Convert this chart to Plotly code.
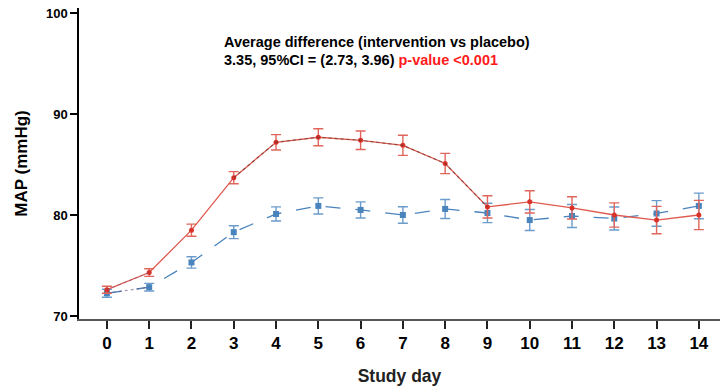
import plotly.graph_objects as go

# Study days and mean arterial pressure (mmHg) per arm, with error-bar half widths
days = list(range(15))
intervention_map = [72.6, 74.3, 78.5, 83.7, 87.2, 87.7, 87.4, 86.9, 85.1, 80.8, 81.3, 80.7, 80.0, 79.5, 80.0]
intervention_err = [0.35, 0.38, 0.6, 0.6, 0.76, 0.84, 0.92, 1.0, 1.0, 1.1, 1.1, 1.1, 1.2, 1.35, 1.45]
placebo_map = [72.25, 72.85, 75.3, 78.3, 80.1, 80.9, 80.5, 80.0, 80.6, 80.2, 79.5, 79.9, 79.65, 80.15, 80.9]
placebo_err = [0.4, 0.38, 0.56, 0.64, 0.7, 0.8, 0.8, 0.82, 0.94, 0.96, 1.04, 1.14, 1.14, 1.27, 1.27]

y_ticks = [70, 80, 90, 100]
title_line = "Average difference (intervention vs placebo)"
estimate_text = "3.35, 95%CI = (2.73, 3.96)"
p_text = "p-value <0.001"

RED = "#d8322a"
RED_LINE = "#e0594d"
BLUE = "#4a84bd"
FONT = "Liberation Sans, Arial, sans-serif"

fig = go.Figure()

fig.add_trace(go.Scatter(
    x=days, y=placebo_map, mode="lines+markers", name="Placebo",
    line=dict(color=BLUE, width=1.3, dash="longdash"),
    marker=dict(symbol="square", size=6, color=BLUE),
    error_y=dict(type="data", array=placebo_err, color="#6b9ccc", thickness=1.4, width=5),
))
# dotted overlay on the first placebo segment
fig.add_trace(go.Scatter(
    x=days[0:2], y=placebo_map[0:2], mode="lines",
    line=dict(color="rgba(110,80,120,0.6)", width=1.2, dash="dot"),
    hoverinfo="skip",
))

fig.add_trace(go.Scatter(
    x=days, y=intervention_map, mode="lines+markers", name="Intervention",
    line=dict(color=RED_LINE, width=1.3),
    marker=dict(symbol="circle", size=5, color=RED),
    error_y=dict(type="data", array=intervention_err, color="#e0665c", thickness=1.4, width=5),
))
# dotted overlay on the intervention peak segment (days 3-9)
fig.add_trace(go.Scatter(
    x=days[3:10], y=intervention_map[3:10], mode="lines",
    line=dict(color="rgba(70,50,50,0.55)", width=1.2, dash="dot"),
    hoverinfo="skip",
))
fig.add_trace(go.Scatter(
    x=days[0:2], y=intervention_map[0:2], mode="lines",
    line=dict(color="rgba(110,80,120,0.5)", width=1.1, dash="dot"),
    hoverinfo="skip",
))

fig.add_annotation(
    xref="paper", yref="paper", x=0.223, y=0.891, xanchor="left", yanchor="middle",
    text="<b>" + title_line + "</b>", showarrow=False,
    font=dict(family=FONT, size=14.5, color="black"),
)
fig.add_annotation(
    xref="paper", yref="paper", x=0.223, y=0.833, xanchor="left", yanchor="middle",
    text="<b>" + estimate_text + " <span style='color:#ff1a1a'>" + p_text + "</span></b>",
    showarrow=False,
    font=dict(family=FONT, size=14.5, color="black"),
)

fig.update_layout(
    width=720, height=387,
    margin=dict(l=79, r=0, t=8, b=68),
    paper_bgcolor="white", plot_bgcolor="white",
    showlegend=False,
    font=dict(family=FONT, color="black"),
    xaxis=dict(
        range=[-0.66, 14.5], tickmode="array", tickvals=days,
        ticktext=["<b>%d</b>" % d for d in days],
        tickfont=dict(family=FONT, size=17, color="black"),
        ticks="outside", ticklen=8, tickwidth=1.5, tickcolor="#222",
        showline=True, linecolor="#555", linewidth=2,
        showgrid=False, zeroline=False,
        title=dict(text="<b>Study day</b>", font=dict(family=FONT, size=17.5, color="#222"), standoff=17),
    ),
    yaxis=dict(
        range=[69.7, 100.5], tickmode="array", tickvals=y_ticks,
        ticktext=["<b>%d</b>" % v for v in y_ticks],
        tickfont=dict(family=FONT, size=13, color="black"),
        ticks="outside", ticklen=7, tickwidth=1.5, tickcolor="black",
        showline=True, linecolor="black", linewidth=1.5,
        showgrid=False, zeroline=False,
        title=dict(text="<b>MAP (mmHg)</b>", font=dict(family=FONT, size=17, color="black"), standoff=14),
    ),
)

fig.write_html("out.html")
